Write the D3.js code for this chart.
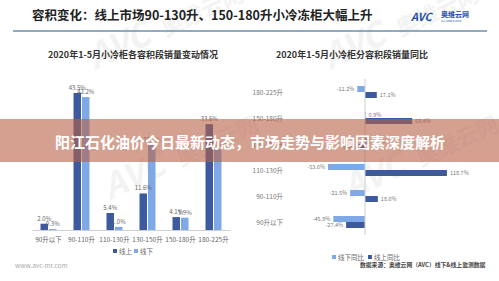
<!DOCTYPE html>
<html>
<head>
<meta charset="utf-8">
<script src="https://cdn.jsdelivr.net/npm/d3@7"></script>
<style>
  body { margin: 0; background: #fff; }
  svg { display: block; font-family: "Noto Sans CJK SC", "Noto Sans", sans-serif; }
</style>
</head>
<body>
<svg id="chart"></svg>
<script>
// left chart: share of sales by volume band
var leftCats = ['90升以下', '90-110升', '110-130升', '130-150升', '150-180升', '180-225升'];
var onlineShare = [2.0, 43.5, 5.4, 11.6, 4.1, 33.6];
var offlineShare = [0.3, 42.2, 1.0, 27.0, 3.9, 25.6];
var leftSeries = ['线上', '线下'];

// right chart: year on year change
var rightCats = ['180-225升', '150-180升', '130-150升', '110-130升', '90-110升', '90升以下'];
var offlineYoY = [-11.2, 0.9, 6.3, -53.6, -21.5, -45.9];
var onlineYoY = [17.1, 68.4, -9.4, 118.7, 18.6, -27.4];
var rightSeries = ['线下同比', '线上同比'];

var W = 499, H = 281;
var dark = '#3d5a9f', light = '#7ea9e6';

var svg = d3.select('svg#chart').attr('width', W).attr('height', H);
svg.append('rect').attr('width', W).attr('height', H).attr('fill', '#fff');

// faint watermarks
[[95, 70], [330, 70], [110, 200], [350, 200]].forEach(function (p) {
    var g = svg.append('g').attr('transform', 'translate(' + p + ') rotate(-25)').attr('fill', '#f3f3f3');
    g.append('text').text('AVC').attr('font-size', 34).attr('font-weight', 'bold').attr('font-style', 'italic');
    g.append('text').text('奥维云网').attr('x', 78).attr('font-size', 22).attr('font-weight', 'bold');
});

// header
svg.append('text').text('容积变化：线上市场90-130升、150-180升小冷冻柜大幅上升')
    .attr('x', 32).attr('y', 20).attr('font-size', 12.5).attr('font-weight', 'bold').attr('fill', '#222');
svg.append('line').attr('x1', 13).attr('x2', 487).attr('y1', 31).attr('y2', 31)
    .attr('stroke', '#6f8fae').attr('stroke-width', 1.5);
svg.append('text').text('AVC').attr('x', 411).attr('y', 21).attr('font-size', 11)
    .attr('font-weight', 'bold').attr('font-style', 'italic').attr('fill', '#1f4fa8');
svg.append('text').text('奥维云网').attr('x', 441).attr('y', 17).attr('font-size', 7)
    .attr('font-weight', 'bold').attr('fill', '#1f4fa8');
svg.append('text').text('ALL VIEW CLOUD').attr('x', 441).attr('y', 22).attr('font-size', 2.6).attr('fill', '#1f4fa8');

// ---- left chart
var lx = d3.scaleBand().domain(leftCats).range([32, 230]);
var lxInner = d3.scaleBand().domain(leftSeries).range([0, 16]).paddingInner(0.12);
var ly = d3.scaleLinear().domain([0, 50]).range([230, 72.5]);

svg.append('text').text('2020年1-5月小冷柜各容积段销量变动情况')
    .attr('x', 133).attr('y', 58).attr('text-anchor', 'middle')
    .attr('font-size', 9).attr('font-weight', 'bold').attr('fill', '#333');

var leftData = [];
leftCats.forEach(function (c, i) {
    leftData.push({ cat: c, s: '线上', v: onlineShare[i] });
    leftData.push({ cat: c, s: '线下', v: offlineShare[i] });
});

var lg = svg.append('g');
lg.selectAll('rect').data(leftData).enter().append('rect')
    .attr('x', function (d) { return lx(d.cat) + lx.bandwidth() / 2 - 8 + lxInner(d.s); })
    .attr('y', function (d) { return ly(d.v); })
    .attr('width', lxInner.bandwidth())
    .attr('height', function (d) { return ly(0) - ly(d.v); })
    .attr('fill', function (d) { return d.s === '线上' ? dark : light; });
lg.selectAll('text').data(leftData).enter().append('text')
    .text(function (d) { return d.v.toFixed(1) + '%'; })
    .attr('x', function (d) { return lx(d.cat) + lx.bandwidth() / 2 - 8 + lxInner(d.s) + lxInner.bandwidth() / 2; })
    .attr('y', function (d) { return ly(d.v) - 3; })
    .attr('text-anchor', 'middle').attr('font-size', 6).attr('fill', '#666');

var lAxis = svg.append('g').attr('transform', 'translate(0,' + ly(0) + ')')
    .call(d3.axisBottom(lx).tickSize(0).tickPadding(7));
lAxis.select('.domain').attr('stroke', '#d0d0d0');
lAxis.selectAll('text').attr('font-size', 6.5).attr('fill', '#666').attr('font-family', 'Noto Sans CJK SC');

var lLeg = svg.append('g').attr('transform', 'translate(113,252)');
leftSeries.forEach(function (s, i) {
    lLeg.append('rect').attr('x', i * 21).attr('y', -3).attr('width', 4).attr('height', 4)
        .attr('fill', i === 0 ? dark : light);
    lLeg.append('text').text(s).attr('x', i * 21 + 6).attr('y', 2).attr('font-size', 6.5).attr('fill', '#666');
});

svg.append('text').text('www.avc-mr.com').attr('x', 15).attr('y', 268)
    .attr('font-size', 6.5).attr('fill', '#aaa');

// ---- right chart
var rx = d3.scaleLinear().domain([-80, 140]).range([309.8, 461.6]);
var ry = d3.scaleBand().domain(rightCats).range([79, 235]);
var ryInner = d3.scaleBand().domain(rightSeries).range([0, 12]);

svg.append('text').text('2020年1-5月小冷柜分容积段销量同比')
    .attr('x', 352).attr('y', 58).attr('text-anchor', 'middle')
    .attr('font-size', 9).attr('font-weight', 'bold').attr('fill', '#333');

var rightData = [];
rightCats.forEach(function (c, i) {
    rightData.push({ cat: c, s: '线下同比', v: offlineYoY[i] });
    rightData.push({ cat: c, s: '线上同比', v: onlineYoY[i] });
});

var rg = svg.append('g');
rg.selectAll('rect').data(rightData).enter().append('rect')
    .attr('x', function (d) { return rx(Math.min(0, d.v)); })
    .attr('y', function (d) { return ry(d.cat) + 7 + ryInner(d.s); })
    .attr('width', function (d) { return Math.abs(rx(d.v) - rx(0)); })
    .attr('height', ryInner.bandwidth())
    .attr('fill', function (d) { return d.s === '线上同比' ? dark : light; });
rg.selectAll('text').data(rightData).enter().append('text')
    .text(function (d) { return d.v.toFixed(1) + '%'; })
    .attr('x', function (d) { return d.v < 0 ? rx(d.v) - 3 : rx(d.v) + 3; })
    .attr('y', function (d) { return ry(d.cat) + 7 + ryInner(d.s) + ryInner.bandwidth() / 2 + 2; })
    .attr('text-anchor', function (d) { return d.v < 0 ? 'end' : 'start'; })
    .attr('font-size', 5.5).attr('fill', '#777');

svg.append('line').attr('x1', rx(0)).attr('x2', rx(0)).attr('y1', 79).attr('y2', 235)
    .attr('stroke', '#cfcfcf');

svg.append('g').selectAll('text').data(rightCats).enter().append('text')
    .text(function (d) { return d; })
    .attr('x', 283).attr('y', function (d) { return ry(d) + ry.bandwidth() / 2 + 2.5; })
    .attr('text-anchor', 'end').attr('font-size', 6.5).attr('fill', '#777');

var rLeg = svg.append('g').attr('transform', 'translate(332,258)');
rightSeries.forEach(function (s, i) {
    rLeg.append('rect').attr('x', i * 36).attr('y', -3).attr('width', 4).attr('height', 4)
        .attr('fill', i === 0 ? light : dark);
    rLeg.append('text').text(s).attr('x', i * 36 + 6).attr('y', 2).attr('font-size', 6.5).attr('fill', '#666');
});

svg.append('text').text('数据来源：奥维云网（AVC）线下&线上监测数据')
    .attr('x', 360).attr('y', 267).attr('font-size', 5.8).attr('font-weight', 'bold').attr('fill', '#444');
svg.append('text').text('-2-').attr('x', 477).attr('y', 267).attr('font-size', 6).attr('fill', '#999');

// ---- banner overlay
svg.append('rect').attr('x', 0).attr('y', 119).attr('width', W).attr('height', 43)
    .attr('fill', 'rgba(183,97,70,0.6)');
svg.append('text').text('阳江石化油价今日最新动态，市场走势与影响因素深度解析')
    .attr('x', 250).attr('y', 147.5).attr('text-anchor', 'middle')
    .attr('font-size', 15).attr('font-weight', 'bold').attr('fill', '#fff');
</script>
</body>
</html>
